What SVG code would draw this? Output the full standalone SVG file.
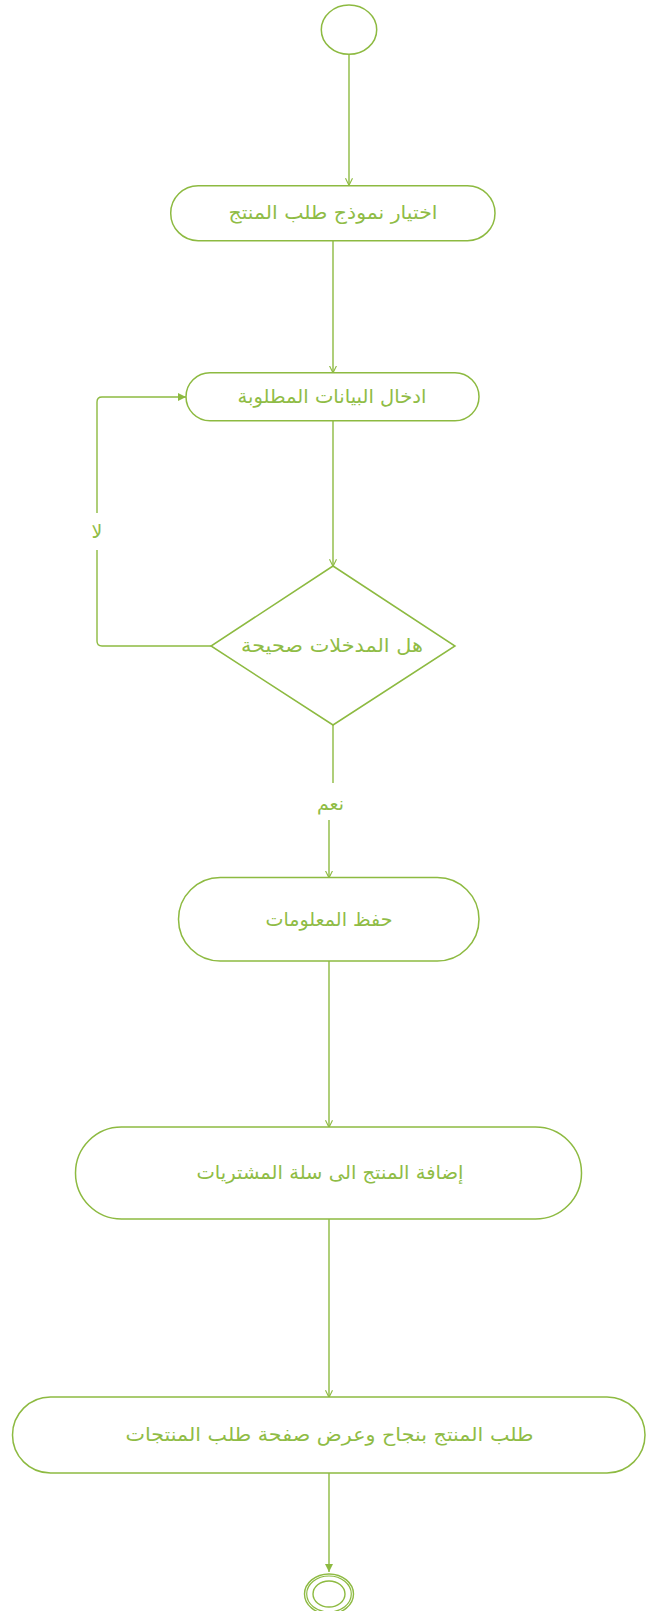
<svg xmlns="http://www.w3.org/2000/svg" width="647" height="1611" viewBox="0 0 647 1611">
<style>
.shape{fill:#ffffff;stroke:#8DBA41;stroke-width:1.5}
.conn{fill:none;stroke:#8DBA41;stroke-width:1.4}
.lbl{font-family:'DejaVu Sans',sans-serif;font-size:19px;fill:#8FBC45;text-anchor:middle;dominant-baseline:central}
</style>
<defs>
<marker id="open" viewBox="0 0 10 10" refX="9.5" refY="5" markerUnits="userSpaceOnUse" markerWidth="7" markerHeight="10" orient="auto">
<path d="M0,0 L10,5 L0,10" fill="none" stroke="#8DBA41" stroke-width="1.6"/>
</marker>
<marker id="filled" viewBox="0 0 10 10" refX="10" refY="5" markerUnits="userSpaceOnUse" markerWidth="8" markerHeight="8" orient="auto">
<path d="M0,0 L10,5 L0,10 Z" fill="#8DBA41"/>
</marker>
</defs>

<g id="connectors">
<path class="conn" d="M349,54.5 V185" marker-end="url(#open)"/>
<path class="conn" d="M333,241 V372.5" marker-end="url(#open)"/>
<path class="conn" d="M333,421 V566" marker-end="url(#open)"/>
<path class="conn" d="M211,646 H102 Q97,646 97,641 V550 M97,513 V402 Q97,397 102,397 H186" marker-end="url(#filled)"/>
<text class="lbl" x="97" y="531">لا</text>
<path class="conn" d="M333,725 V783"/>
<path class="conn" d="M329,820 V877.5" marker-end="url(#open)"/>
<text class="lbl" x="330.5" y="803" textLength="27" lengthAdjust="spacingAndGlyphs">نعم</text>
<path class="conn" d="M329,961 V1127" marker-end="url(#open)"/>
<path class="conn" d="M329,1219 V1397" marker-end="url(#open)"/>
<path class="conn" d="M329,1473 V1572" marker-end="url(#filled)"/>
</g>

<g id="start">
<ellipse class="shape" cx="349" cy="29.7" rx="27.7" ry="24.6"/>
</g>

<g id="n1">
<rect class="shape" x="170.7" y="185.7" width="324.3" height="55" rx="27.5" ry="27.5"/>
<text class="lbl" x="333" y="212" textLength="209" lengthAdjust="spacingAndGlyphs">اختيار نموذج طلب المنتج</text>
</g>

<g id="n2">
<rect class="shape" x="186" y="372.7" width="293" height="48" rx="24" ry="24"/>
<text class="lbl" x="332" y="395.5" textLength="189" lengthAdjust="spacingAndGlyphs">ادخال البيانات المطلوبة</text>
</g>

<g id="decision">
<polygon class="shape" points="333,566 455,646 333,725 211,646"/>
<text class="lbl" x="332" y="644.5" textLength="182" lengthAdjust="spacingAndGlyphs">هل المدخلات صحيحة</text>
</g>

<g id="n3">
<rect class="shape" x="178.5" y="877.5" width="300.5" height="83.5" rx="41.75" ry="41.75"/>
<text class="lbl" x="329" y="918.5" textLength="127" lengthAdjust="spacingAndGlyphs">حفظ المعلومات</text>
</g>

<g id="n4">
<rect class="shape" x="75.5" y="1127" width="506" height="92" rx="46" ry="46"/>
<text class="lbl" x="330" y="1171.5" textLength="267" lengthAdjust="spacingAndGlyphs">إضافة المنتج الى سلة المشتريات</text>
</g>

<g id="n5">
<rect class="shape" x="12.5" y="1397" width="632.5" height="76" rx="38" ry="38"/>
<text class="lbl" x="329.5" y="1433.5" textLength="408" lengthAdjust="spacingAndGlyphs">طلب المنتج بنجاح وعرض صفحة طلب المنتجات</text>
</g>

<g id="end">
<ellipse cx="329" cy="1594" rx="24.5" ry="20" fill="#ffffff" stroke="#8DBA41" stroke-width="1.4"/>
<ellipse cx="329" cy="1594" rx="22.3" ry="18" fill="none" stroke="#8DBA41" stroke-width="1.2"/>
<ellipse cx="329" cy="1594" rx="16" ry="13" fill="none" stroke="#8DBA41" stroke-width="1.4"/>
</g>
</svg>
